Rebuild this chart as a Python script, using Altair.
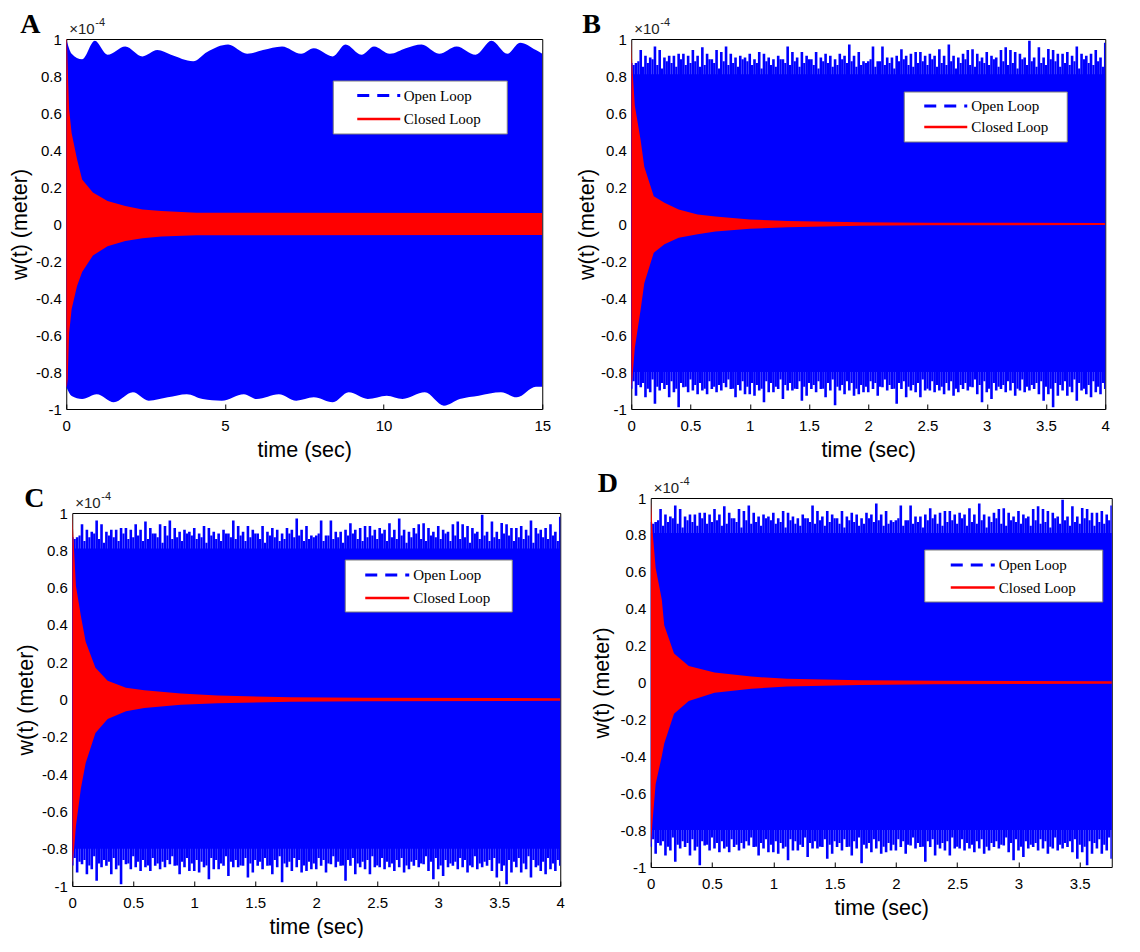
import altair as alt
import pandas as pd

# ------------------------------------------------------------------ data
PANELS = ["A", "B", "C", "D"]
SERIES = ["Open Loop", "Closed Loop"]
X_TICKS_A = [0, 5, 10, 15]
X_TICKS_BCD = [0, 0.5, 1, 1.5, 2, 2.5, 3, 3.5, 4]
Y_TICKS = [-1, -0.8, -0.6, -0.4, -0.2, 0, 0.2, 0.4, 0.6, 0.8, 1]
# visible time window of each panel (panel D is cut by the picture's right edge)
X_MAX = {"A": 15, "B": 4, "C": 4, "D": 3.761}

# Panel A, open loop envelope (units of 1e-4 m)
A_OL_UP_T = [0, 0.17, 0.5, 0.9, 1.3, 1.86, 2.4, 2.87, 3.3, 4.0, 4.44, 5.1, 5.7, 6.2, 6.8, 7.4,
             7.8, 8.4, 8.8, 9.3, 9.7, 10.2, 10.7, 11.2, 11.75, 12.3, 12.9, 13.4, 13.9, 14.3, 14.8, 15.0]
A_OL_UP = [1.0, 0.92, 0.89, 0.99, 0.915, 0.96, 0.906, 0.94, 0.915, 0.88, 0.93, 0.97, 0.92, 0.94, 0.96, 0.92,
           0.95, 0.906, 0.97, 0.915, 0.96, 0.92, 0.95, 0.97, 0.92, 0.96, 0.915, 0.99, 0.92, 0.98, 0.94, 0.92]
A_OL_LO_T = [0, 0.17, 0.5, 0.96, 1.5, 2.1, 2.6, 3.2, 3.8, 4.3, 4.9, 5.6, 6.0, 6.7, 7.25, 7.8, 8.4,
             8.9, 9.5, 10.1, 10.6, 11.3, 11.9, 12.4, 13.0, 13.7, 14.2, 14.8, 15.0]
A_OL_LO = [-0.88, -0.93, -0.946, -0.92, -0.964, -0.91, -0.955, -0.937, -0.92, -0.946, -0.955, -0.92, -0.946,
           -0.92, -0.955, -0.937, -0.964, -0.91, -0.946, -0.928, -0.946, -0.91, -0.982, -0.946, -0.928,
           -0.91, -0.937, -0.88, -0.88]

# Panel A, closed loop envelope
A_CL_T = [0, 0.02, 0.045, 0.09, 0.17, 0.34, 0.5, 0.84, 1.3, 1.86, 2.4, 3.0, 4.1, 15.0]
A_CL_UP = [1.0, 1.0, 0.85, 0.62, 0.49, 0.35, 0.24, 0.17, 0.124, 0.097, 0.079, 0.07, 0.061, 0.06]
A_CL_LO = [-0.88, -0.88, -0.84, -0.59, -0.46, -0.335, -0.26, -0.17, -0.12, -0.092, -0.077, -0.068, -0.061, -0.06]

# Panels B, C, D: open loop (same response): solid core, tall dash peaks, medium dash peaks
OL_BASE_T = [0, 4]
OL_BASE_UP = [0.81, 0.81]
OL_BASE_LO = [-0.80, -0.80]
OL_T = [round(0.04 * i, 2) for i in range(101)]
OL_UP = [0.87, 0.87, 0.94, 0.91, 0.90, 0.96, 0.94, 0.90, 0.91, 0.91, 0.92, 0.92, 0.91, 0.94, 0.91, 0.955,
         0.92, 0.89, 0.94, 0.93, 0.96, 0.92, 0.90, 0.91, 0.90, 0.92, 0.89, 0.93, 0.92, 0.90, 0.89, 0.91,
         0.89, 0.96, 0.93, 0.90, 0.93, 0.91, 0.89, 0.93, 0.90, 0.92, 0.91, 0.89, 0.92, 0.91, 0.97, 0.91,
         0.93, 0.88, 0.88,
         0.96, 0.88, 0.96, 0.90, 0.90, 0.91, 0.945, 0.91, 0.92, 0.93, 0.93, 0.91, 0.92, 0.91, 0.945, 0.91,
         0.97, 0.91, 0.90, 0.92, 0.94, 0.945, 0.92, 0.90, 0.93, 0.91, 0.90, 0.94, 0.955, 0.94, 0.93, 0.92,
         0.90, 0.99, 0.90, 0.955, 0.90, 0.946, 0.94, 0.92, 0.92, 0.93, 0.91, 0.96, 0.92, 0.91, 0.92, 0.94,
         0.90, 0.98]
OL_LO = [-0.89, -0.928, -0.883, -0.937, -0.91, -0.972, -0.90, -0.892, -0.937, -0.91, -0.99, -0.883, -0.91,
         -0.90, -0.92, -0.90, -0.92, -0.892, -0.91, -0.90, -0.883, -0.892, -0.937, -0.90, -0.92, -0.92,
         -0.928, -0.90, -0.964, -0.91, -0.91, -0.892, -0.946, -0.90, -0.90, -0.892, -0.955, -0.928, -0.892,
         -0.91, -0.892, -0.937, -0.90, -0.98, -0.90, -0.92, -0.90, -0.928, -0.92, -0.91,
         -0.91, -0.892, -0.928, -0.883, -0.90, -0.892, -0.972, -0.892, -0.937, -0.90, -0.91, -0.937, -0.90,
         -0.90, -0.91, -0.90, -0.92, -0.90, -0.928, -0.91, -0.892, -0.90, -0.883, -0.92, -0.964, -0.91,
         -0.946, -0.90, -0.892, -0.91, -0.90, -0.928, -0.90, -0.91, -0.90, -0.892, -0.92, -0.955, -0.92,
         -0.99, -0.928, -0.90, -0.928, -0.91, -0.955, -0.90, -0.92, -0.937, -0.91, -0.92, -0.892]
OL_MID_T = [round(0.02 + 0.04 * i, 2) for i in range(100)]
OL_MID_UP = [0.86, 0.88, 0.85, 0.87, 0.89, 0.86, 0.84, 0.88, 0.87, 0.85, 0.89, 0.86, 0.87, 0.88, 0.85,
             0.86, 0.89, 0.87, 0.84, 0.88, 0.86, 0.87, 0.85, 0.89, 0.88, 0.86, 0.87, 0.84, 0.88, 0.86,
             0.85, 0.89, 0.87, 0.86, 0.88, 0.85, 0.87, 0.89, 0.86, 0.84, 0.88, 0.87, 0.85, 0.86, 0.89,
             0.87, 0.88, 0.85, 0.86, 0.87, 0.89, 0.85, 0.88, 0.86, 0.87, 0.84, 0.88, 0.89, 0.86, 0.85,
             0.87, 0.88, 0.86, 0.89, 0.85, 0.87, 0.86, 0.88, 0.84, 0.87, 0.89, 0.86, 0.85, 0.88, 0.87,
             0.86, 0.89, 0.85, 0.88, 0.86, 0.87, 0.84, 0.89, 0.86, 0.88, 0.85, 0.87, 0.86, 0.89, 0.88,
             0.85, 0.87, 0.86, 0.88, 0.84, 0.89, 0.87, 0.86, 0.88, 0.85]
OL_MID_LO = [-0.85, -0.87, -0.86, -0.89, -0.84, -0.88, -0.86, -0.87, -0.85, -0.89, -0.86, -0.88, -0.84,
             -0.87, -0.86, -0.89, -0.85, -0.88, -0.87, -0.86, -0.84, -0.89, -0.87, -0.85, -0.88, -0.86,
             -0.87, -0.89, -0.85, -0.86, -0.88, -0.84, -0.87, -0.86, -0.89, -0.85, -0.88, -0.86, -0.87,
             -0.85, -0.89, -0.86, -0.84, -0.88, -0.87, -0.85, -0.86, -0.89, -0.87, -0.88, -0.85, -0.86,
             -0.88, -0.84, -0.87, -0.89, -0.86, -0.85, -0.88, -0.87, -0.86, -0.84, -0.89, -0.85, -0.87,
             -0.88, -0.86, -0.85, -0.89, -0.87, -0.86, -0.88, -0.84, -0.87, -0.85, -0.89, -0.86, -0.88,
             -0.87, -0.85, -0.86, -0.89, -0.84, -0.88, -0.87, -0.86, -0.85, -0.88, -0.89, -0.86, -0.87,
             -0.85, -0.88, -0.84, -0.86, -0.89, -0.87, -0.85, -0.88, -0.86]

# Closed loop envelopes B, C, D
B_CL_T = [0, 0.01, 0.03, 0.08, 0.11, 0.19, 0.28, 0.40, 0.56, 0.71, 1.0, 1.32, 1.93, 2.5, 4.0]
B_CL_UP = [1.0, 0.84, 0.64, 0.45, 0.31, 0.15, 0.115, 0.079, 0.052, 0.04, 0.025, 0.016, 0.009, 0.007, 0.006]
B_CL_LO = [-0.9, -0.83, -0.67, -0.46, -0.32, -0.155, -0.11, -0.074, -0.056, -0.04, -0.025, -0.018, -0.01, -0.007, -0.006]

C_CL_T = [0, 0.015, 0.03, 0.07, 0.11, 0.19, 0.29, 0.44, 0.59, 0.89, 1.19, 1.79, 2.39, 4.0]
C_CL_UP = [1.0, 0.80, 0.61, 0.45, 0.31, 0.17, 0.10, 0.063, 0.05, 0.032, 0.021, 0.012, 0.009, 0.007]
C_CL_LO = [-0.9, -0.8, -0.68, -0.48, -0.34, -0.18, -0.104, -0.063, -0.046, -0.028, -0.02, -0.012, -0.009, -0.007]

D_CL_T = [0, 0.015, 0.04, 0.09, 0.11, 0.19, 0.31, 0.52, 0.82, 1.11, 1.71, 2.31, 4.0]
D_CL_UP = [1.0, 0.82, 0.62, 0.45, 0.31, 0.157, 0.089, 0.054, 0.032, 0.02, 0.012, 0.009, 0.007]
D_CL_LO = [-0.9, -0.75, -0.55, -0.40, -0.33, -0.17, -0.10, -0.056, -0.034, -0.022, -0.013, -0.009, -0.007]

# ------------------------------------------------------------------ styles / layout
BLUE = "#0000ff"
RED = "#ff0000"
SANS = "Liberation Sans"
SERIF = "Liberation Serif"
LABEL_EXPR = "replace(format(datum.value, '~g'), '\u2212', '-')"

# lead / tail / top: invisible extents (px, relative to the plot) used to place the panels
GEO = {
    "A": dict(w=476, h=370, box=(267, 441, 42, 95), sym=(291, 334), rows=(56.6, 80), tx=337.5, lx=-46,
              tpad=4, lead=-57, tail=505),
    "B": dict(w=474, h=370, box=(273, 436, 53, 103), sym=(293, 336), rows=(67, 88), tx=340, lx=-49,
              tpad=1.5, lead=-58, tail=500),
    "C": dict(w=488, h=373, box=(273, 440, 47, 99), sym=(293, 337), rows=(62, 85), tx=341, lx=-48,
              tpad=4, lead=None, tail=493),
    "D": dict(w=461, h=369, box=(274, 452, 52, 104), sym=(300, 344), rows=(67, 89.5), tx=348, lx=-53,
              tpad=6, lead=None, tail=None),
}
LETTER_BASE = -6
TOP_EXTENT = -30


def one_row():
    return pd.DataFrame({"k": [0]})


def spacer(x, y=100):
    return alt.Chart(one_row()).mark_rule(opacity=0, strokeWidth=1).encode(
        x=alt.value(x - 1), x2=alt.value(x), y=alt.value(y))


def build_panel(letter):
    g = GEO[letter]
    xticks = X_TICKS_A if letter == "A" else [v for v in X_TICKS_BCD if v <= X_MAX[letter]]
    xs = alt.Scale(domain=[0, X_MAX[letter]], nice=False, zero=False)
    ys = alt.Scale(domain=[-1, 1], nice=False, zero=False)
    x_bottom = alt.Axis(values=xticks, labelExpr=LABEL_EXPR, orient="bottom", offset=-5, ticks=True,
                        tickSize=5, labelPadding=9, titlePadding=6, labelFlush=False, labelOverlap=False)
    y_axis = alt.Axis(values=Y_TICKS, labelExpr=LABEL_EXPR, ticks=False, tickSize=0,
                      labelPadding=5, titlePadding=g["tpad"], labelFlush=False)
    ytitle = "w(t) (meter)"

    layers = []
    if letter == "A":
        up_df = pd.DataFrame({"t": A_OL_UP_T, "v": A_OL_UP})
        lo_df = pd.DataFrame({"t": A_OL_LO_T, "v": A_OL_LO})
        layers.append(
            alt.Chart(up_df).mark_area(color=BLUE, interpolate="monotone", clip=True).encode(
                x=alt.X("t:Q", scale=xs, axis=x_bottom, title="time (sec)"),
                y=alt.Y("v:Q", scale=ys, axis=y_axis, title=ytitle),
                y2=alt.datum(0)))
        layers.append(
            alt.Chart(lo_df).mark_area(color=BLUE, interpolate="monotone", clip=True).encode(
                x=alt.X("t:Q", scale=xs, axis=None),
                y=alt.Y("v:Q", scale=ys, axis=y_axis, title=ytitle),
                y2=alt.datum(0)))
        cl_df = pd.DataFrame({"t": A_CL_T, "up": A_CL_UP, "lo": A_CL_LO})
    else:
        base_df = pd.DataFrame({"t": OL_BASE_T, "up": OL_BASE_UP, "lo": OL_BASE_LO})
        ol_df = pd.DataFrame({"t": OL_T, "up": OL_UP, "lo": OL_LO})
        mid_df = pd.DataFrame({"t": OL_MID_T, "up": OL_MID_UP, "lo": OL_MID_LO})
        layers.append(
            alt.Chart(base_df).mark_area(color=BLUE, clip=True).encode(
                x=alt.X("t:Q", scale=xs, axis=x_bottom, title="time (sec)"),
                y=alt.Y("lo:Q", scale=ys, axis=y_axis, title=ytitle),
                y2="up:Q"))
        layers.append(
            alt.Chart(mid_df).mark_rule(color=BLUE, strokeWidth=2.2, clip=True).encode(
                x=alt.X("t:Q", scale=xs, axis=None),
                y=alt.Y("lo:Q", scale=ys, axis=y_axis, title=ytitle),
                y2="up:Q"))
        layers.append(
            alt.Chart(ol_df).mark_rule(color=BLUE, strokeWidth=2.6, clip=True).encode(
                x=alt.X("t:Q", scale=xs, axis=None),
                y=alt.Y("lo:Q", scale=ys, axis=y_axis, title=ytitle),
                y2="up:Q"))
        src = {"B": (B_CL_T, B_CL_UP, B_CL_LO), "C": (C_CL_T, C_CL_UP, C_CL_LO),
               "D": (D_CL_T, D_CL_UP, D_CL_LO)}[letter]
        cl_df = pd.DataFrame({"t": src[0], "up": src[1], "lo": src[2]})

    layers.append(
        alt.Chart(cl_df).mark_area(color=RED, clip=True).encode(
            x=alt.X("t:Q", scale=xs, axis=None),
            y=alt.Y("lo:Q", scale=ys, axis=y_axis, title=ytitle),
            y2="up:Q"))

    # legend box
    bx0, bx1, by0, by1 = g["box"]
    layers.append(
        alt.Chart(one_row()).mark_rect(fill="white", stroke="#7f7f7f", strokeWidth=1).encode(
            x=alt.value(bx0), x2=alt.value(bx1), y=alt.value(by0), y2=alt.value(by1)))
    sx0, sx1 = g["sym"]
    styles = [dict(color=BLUE, strokeWidth=3, strokeDash=[12, 8]), dict(color=RED, strokeWidth=2.5)]
    for name, ry, st in zip(SERIES, g["rows"], styles):
        layers.append(
            alt.Chart(one_row()).mark_rule(**st).encode(
                x=alt.value(sx0), x2=alt.value(sx1), y=alt.value(ry)))
        layers.append(
            alt.Chart(pd.DataFrame({"s": [name]})).mark_text(
                font=SERIF, fontSize=15, align="left", baseline="middle", color="black").encode(
                text="s:N", x=alt.value(g["tx"]), y=alt.value(ry)))

    # panel letter and exponent
    layers.append(
        alt.Chart(pd.DataFrame({"p": [letter]})).mark_text(
            font=SERIF, fontWeight="bold", fontSize=28, align="left", baseline="alphabetic",
            color="black").encode(text="p:N", x=alt.value(g["lx"]), y=alt.value(LETTER_BASE)))
    layers.append(
        alt.Chart(one_row()).mark_text(font=SANS, fontSize=15, align="left", baseline="alphabetic",
                                       color="#222222").encode(
            text=alt.value("\u00d710"), x=alt.value(3), y=alt.value(-5)))
    layers.append(
        alt.Chart(one_row()).mark_text(font=SANS, fontSize=11, align="left", baseline="alphabetic",
                                       color="#222222").encode(
            text=alt.value("-4"), x=alt.value(29), y=alt.value(-13)))
    # room above the letter so that its glyph box stays inside the picture
    layers.append(spacer(g["lx"] + 2, TOP_EXTENT))
    if g["lead"] is not None:
        layers.append(spacer(g["lead"] + 1))
    if g["tail"] is not None:
        layers.append(spacer(g["tail"]))

    return alt.layer(*layers).resolve_axis(x="independent").properties(width=g["w"], height=g["h"])


pA, pB, pC, pD = [build_panel(p) for p in PANELS]

chart = alt.hconcat(
    alt.vconcat(pA, pC, spacing=21, center=True),
    alt.vconcat(pB, pD, spacing=6, center=True),
    spacing=0,
).properties(
    padding={"left": 0, "top": 0, "right": 0, "bottom": 0}
).configure_view(
    stroke="black", strokeWidth=1
).configure_axis(
    labelFont=SANS, labelFontSize=15, labelColor="black",
    titleFont=SANS, titleFontSize=21.5, titleFontWeight="normal", titleColor="black",
    tickColor="black", grid=False, domain=False,
)

chart.save("out.html", embed_options={"renderer": "svg", "actions": False})
